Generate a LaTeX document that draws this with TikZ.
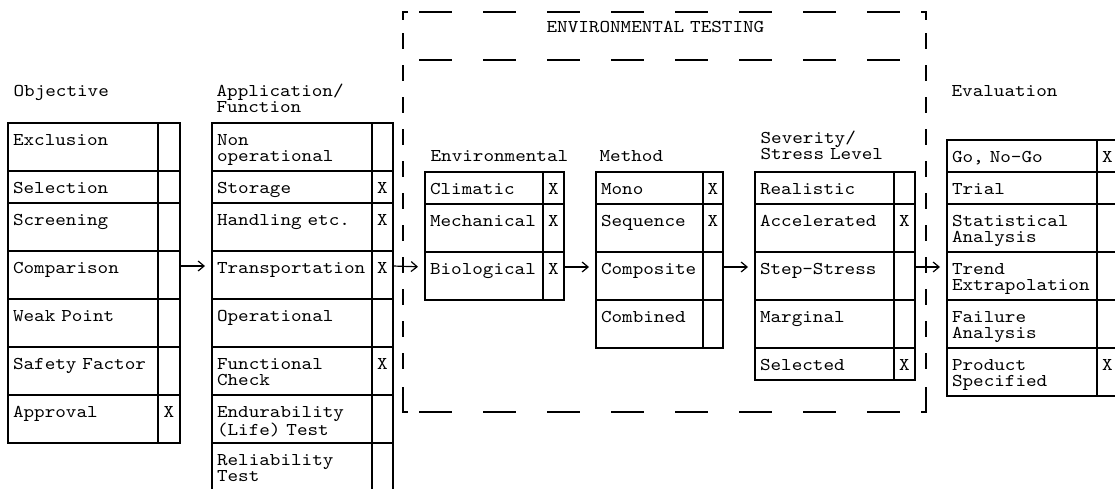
\documentclass[tikz,border=0pt]{standalone}
\usepackage{fontspec}
\setmonofont{lmmono10-regular.otf}[FakeStretch=1.12]
\usetikzlibrary{arrows.meta,positioning}
\newcommand\cellfont{\ttfamily\fontsize{18pt}{16pt}\selectfont
  \spaceskip=10.58pt\relax\xspaceskip=10.58pt\relax}
\tikzset{
  cellbox/.style={draw,line width=1.2pt,outer sep=0pt,inner xsep=5pt,inner ysep=0pt,
    align=left,text height=22.5pt,text depth=9.5pt,font=\cellfont},
  tall/.style={text depth=25.5pt},
  markbox/.style={cellbox,inner xsep=0pt,align=center},
  objcell/.style={cellbox,text width=140pt},
  objmark/.style={markbox,minimum width=22pt},
  appcell/.style={cellbox,text width=150pt},
  appmark/.style={markbox,minimum width=21pt},
  envcell/.style={cellbox,text width=108pt},
  envmark/.style={markbox,minimum width=21pt},
  metcell/.style={cellbox,text width=97pt},
  metmark/.style={markbox,minimum width=20pt},
  sevcell/.style={cellbox,text width=129pt},
  sevmark/.style={markbox,minimum width=21pt},
  evacell/.style={cellbox,text width=140pt},
  evamark/.style={markbox,minimum width=21pt},
  hdr/.style={font=\cellfont,inner sep=0pt,anchor=base west,align=left,text width=240pt},
  flowarrow/.style={-{Straight Barb[length=6pt,width=10pt]},line width=1.2pt,shorten >=7pt},
  hdash/.style={line width=1.2pt,dash pattern=on 33pt off 31pt},
  vdash/.style={line width=1.2pt,dash pattern=on 16pt off 16pt}
}
\begin{document}
\begin{tikzpicture}[x=1pt,y=-1pt,node distance=0pt,line width=1.2pt]
  \useasboundingbox (0,0) rectangle (1115,488);
  % objective
  \node[hdr] (objhd) at (13,96) {Objective};
  \node[objcell,tall,anchor=north west] (excl) at (8,123) {Exclusion};
  \node[objmark,tall,right=of excl] (exclx) {};
  \node[objcell,below=of excl] (sel) {Selection};
  \node[objmark,right=of sel] (selx) {};
  \node[objcell,tall,below=of sel] (scr) {Screening};
  \node[objmark,tall,right=of scr] (scrx) {};
  \node[objcell,tall,below=of scr] (cmp) {Comparison};
  \node[objmark,tall,right=of cmp] (cmpx) {};
  \node[objcell,tall,below=of cmp] (weak) {Weak Point};
  \node[objmark,tall,right=of weak] (weakx) {};
  \node[objcell,tall,below=of weak] (safe) {Safety Factor};
  \node[objmark,tall,right=of safe] (safex) {};
  \node[objcell,tall,below=of safe] (appr) {Approval};
  \node[objmark,tall,right=of appr] (apprx) {X};
  % application / function
  \node[hdr] (apphd) at (216,96) {Application/\\Function};
  \node[appcell,tall,anchor=north west] (nonop) at (212,123) {Non\\operational};
  \node[appmark,tall,right=of nonop] (nonopx) {};
  \node[appcell,below=of nonop] (stor) {Storage};
  \node[appmark,right=of stor] (storx) {X};
  \node[appcell,tall,below=of stor] (hand) {Handling etc.};
  \node[appmark,tall,right=of hand] (handx) {X};
  \node[appcell,tall,below=of hand] (trns) {Transportation};
  \node[appmark,tall,right=of trns] (trnsx) {X};
  \node[appcell,tall,below=of trns] (oper) {Operational};
  \node[appmark,tall,right=of oper] (operx) {};
  \node[appcell,tall,below=of oper] (func) {Functional\\Check};
  \node[appmark,tall,right=of func] (funcx) {X};
  \node[appcell,tall,below=of func] (endu) {Endurability\\(Life) Test};
  \node[appmark,tall,right=of endu] (endux) {};
  \node[appcell,tall,below=of endu] (reli) {Reliability\\Test};
  \node[appmark,tall,right=of reli] (relix) {};
  % environmental testing frame
  \node[hdr] (envtest) at (546,32) {ENVIRONMENTAL TESTING};
  \draw[hdash] (419,12) -- (900,12);
  \draw[hdash] (419,60) -- (900,60);
  \draw[hdash] (419,412) -- (900,412);
  \draw (408,12) -- (403,12) -- (403,20);
  \draw[vdash] (403,33) -- (403,380);
  \draw (403,387) -- (403,412) -- (408,412);
  \draw (921,12) -- (926,12) -- (926,20);
  \draw[vdash] (926,33) -- (926,380);
  \draw (926,387) -- (926,412) -- (921,412);
  % environmental
  \node[hdr] (envhd) at (430,161) {Environmental};
  \node[envcell,anchor=north west] (clim) at (425,172) {Climatic};
  \node[envmark,right=of clim] (climx) {X};
  \node[envcell,tall,below=of clim] (mech) {Mechanical};
  \node[envmark,tall,right=of mech] (mechx) {X};
  \node[envcell,tall,below=of mech] (biol) {Biological};
  \node[envmark,tall,right=of biol] (biolx) {X};
  % method
  \node[hdr] (methd) at (599,161) {Method};
  \node[metcell,anchor=north west] (mono) at (596,172) {Mono};
  \node[metmark,right=of mono] (monox) {X};
  \node[metcell,tall,below=of mono] (sequ) {Sequence};
  \node[metmark,tall,right=of sequ] (sequx) {X};
  \node[metcell,tall,below=of sequ] (comp) {Composite};
  \node[metmark,tall,right=of comp] (compx) {};
  \node[metcell,tall,below=of comp] (comb) {Combined};
  \node[metmark,tall,right=of comb] (combx) {};
  % severity / stress level
  \node[hdr] (sevhd) at (760,143) {Severity/\\Stress Level};
  \node[sevcell,anchor=north west] (real) at (755,172) {Realistic};
  \node[sevmark,right=of real] (realx) {};
  \node[sevcell,tall,below=of real] (accl) {Accelerated};
  \node[sevmark,tall,right=of accl] (acclx) {X};
  \node[sevcell,tall,below=of accl] (step) {Step-Stress};
  \node[sevmark,tall,right=of step] (stepx) {};
  \node[sevcell,tall,below=of step] (marg) {Marginal};
  \node[sevmark,tall,right=of marg] (margx) {};
  \node[sevcell,below=of marg] (slct) {Selected};
  \node[sevmark,right=of slct] (slctx) {X};
  % evaluation
  \node[hdr] (evahd) at (951,96) {Evaluation};
  \node[evacell,anchor=north west] (gono) at (947,140) {Go, No-Go};
  \node[evamark,right=of gono] (gonox) {X};
  \node[evacell,below=of gono] (tria) {Trial};
  \node[evamark,right=of tria] (triax) {};
  \node[evacell,tall,below=of tria] (stat) {Statistical\\Analysis};
  \node[evamark,tall,right=of stat] (statx) {};
  \node[evacell,tall,below=of stat] (trnd) {Trend\\Extrapolation};
  \node[evamark,tall,right=of trnd] (trndx) {};
  \node[evacell,tall,below=of trnd] (fail) {Failure\\Analysis};
  \node[evamark,tall,right=of fail] (failx) {};
  \node[evacell,tall,below=of fail] (prod) {Product\\Specified};
  \node[evamark,tall,right=of prod] (prodx) {X};
  % connectors
  \draw[flowarrow] ([yshift=-15pt]cmpx.north east) -- ([yshift=-15pt]trns.north west);
  \draw[flowarrow] ([yshift=-15pt]trnsx.north east) -- ([yshift=-15pt]biol.north west);
  \draw[flowarrow] ([yshift=-15pt]biolx.north east) -- ([yshift=-15pt]comp.north west);
  \draw[flowarrow] ([yshift=-15pt]compx.north east) -- ([yshift=-15pt]step.north west);
  \draw[flowarrow] ([yshift=-15pt]stepx.north east) -- ([yshift=-15pt]trnd.north west);
\end{tikzpicture}
\end{document}
